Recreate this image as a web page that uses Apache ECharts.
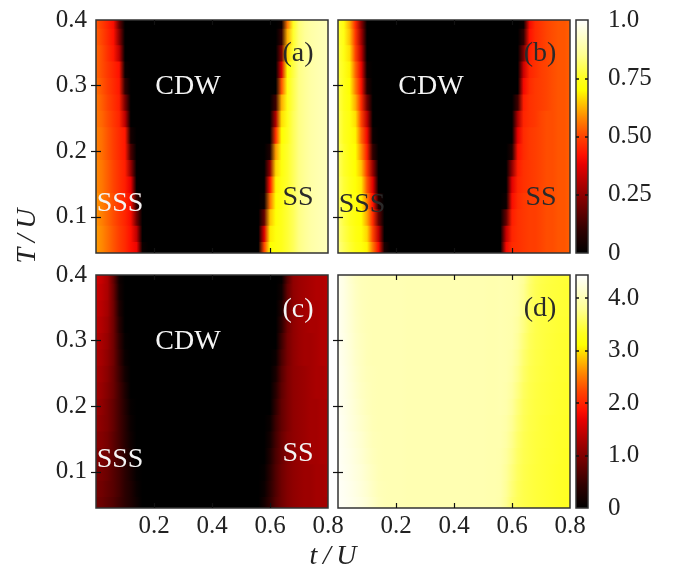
<!DOCTYPE html>
<html><head><meta charset="utf-8">
<script src="https://cdn.jsdelivr.net/npm/echarts@6/dist/echarts.min.js"></script>
<style>html,body{margin:0;padding:0;background:#fff}#c{width:673px;height:572px}</style>
</head><body><div id="c"></div>
<script>
// ---- data ----
const tCols = [0,0.02,0.04,0.06,0.08,0.10,0.12,0.14,0.16,0.18,0.20,0.22,0.24,0.26,0.28,0.30,0.32,0.34,0.36,0.38,0.40,0.42,0.44,0.46,0.48,0.50,0.52,0.54,0.56,0.58,0.60,0.62,0.64,0.66,0.68,0.70,0.72,0.74,0.76,0.78,0.80];
const tRows = [0.050,0.075,0.100,0.125,0.150,0.175,0.200,0.225,0.250,0.275,0.300,0.325,0.350,0.375,0.400];
const xTicks = [0.2,0.4,0.6,0.8];
const yTicks = [0.1,0.2,0.3,0.4];
const cb1Ticks = [0,0.25,0.5,0.75,1.0];
const cb2Ticks = [0,1,2,3,4];
const cb1Max = 1.0;
const cb2Max = 4.44;
const yMin = 0.045, yMax = 0.4;

// one row per tRows entry, one value per tCols entry
const panelA = [
[0.60,0.58,0.55,0.52,0.49,0.46,0.42,0.39,0.02, 0,0,0,0,0,0,0,0,0,0,0,0,0,0,0,0,0,0,0, 0,0.50,0.70,0.72,0.74,0.77,0.80,0.84,0.86,0.88,0.89,0.90,0.91],
[0.60,0.58,0.55,0.52,0.49,0.46,0.42,0.32,0, 0,0,0,0,0,0,0,0,0,0,0,0,0,0,0,0,0,0,0, 0,0.36,0.68,0.72,0.74,0.77,0.80,0.84,0.86,0.88,0.89,0.90,0.91],
[0.59,0.57,0.54,0.51,0.48,0.45,0.41,0.20,0, 0,0,0,0,0,0,0,0,0,0,0,0,0,0,0,0,0,0,0, 0,0.18,0.64,0.71,0.74,0.77,0.80,0.84,0.86,0.88,0.89,0.90,0.91],
[0.59,0.57,0.54,0.51,0.48,0.45,0.41,0.10,0, 0,0,0,0,0,0,0,0,0,0,0,0,0,0,0,0,0,0,0, 0,0.02,0.55,0.70,0.73,0.77,0.80,0.84,0.86,0.88,0.89,0.90,0.91],
[0.58,0.56,0.53,0.50,0.47,0.44,0.38,0,0, 0,0,0,0,0,0,0,0,0,0,0,0,0,0,0,0,0,0,0, 0,0,0.42,0.69,0.73,0.76,0.80,0.84,0.86,0.88,0.89,0.90,0.91],
[0.58,0.56,0.53,0.50,0.47,0.44,0.26,0,0, 0,0,0,0,0,0,0,0,0,0,0,0,0,0,0,0,0,0,0, 0,0,0.25,0.66,0.72,0.76,0.80,0.84,0.86,0.88,0.89,0.90,0.91],
[0.57,0.55,0.52,0.49,0.46,0.43,0.14,0,0, 0,0,0,0,0,0,0,0,0,0,0,0,0,0,0,0,0,0,0, 0,0,0.06,0.60,0.72,0.76,0.80,0.84,0.86,0.88,0.89,0.90,0.91],
[0.57,0.55,0.52,0.49,0.46,0.43,0.04,0,0, 0,0,0,0,0,0,0,0,0,0,0,0,0,0,0,0,0,0,0, 0,0,0,0.47,0.70,0.75,0.80,0.84,0.86,0.88,0.89,0.90,0.91],
[0.56,0.54,0.51,0.48,0.45,0.32,0,0,0, 0,0,0,0,0,0,0,0,0,0,0,0,0,0,0,0,0,0,0, 0,0,0,0.30,0.67,0.74,0.80,0.84,0.86,0.88,0.89,0.90,0.91],
[0.56,0.53,0.50,0.47,0.44,0.22,0,0,0, 0,0,0,0,0,0,0,0,0,0,0,0,0,0,0,0,0,0,0, 0,0,0,0.12,0.62,0.73,0.79,0.84,0.86,0.88,0.89,0.90,0.91],
[0.55,0.52,0.49,0.46,0.43,0.10,0,0,0, 0,0,0,0,0,0,0,0,0,0,0,0,0,0,0,0,0,0,0, 0,0,0,0,0.52,0.72,0.79,0.84,0.86,0.88,0.89,0.90,0.91],
[0.54,0.51,0.48,0.45,0.42,0.02,0,0,0, 0,0,0,0,0,0,0,0,0,0,0,0,0,0,0,0,0,0,0, 0,0,0,0,0.36,0.70,0.78,0.84,0.86,0.88,0.89,0.90,0.91],
[0.54,0.51,0.47,0.43,0.32,0,0,0,0, 0,0,0,0,0,0,0,0,0,0,0,0,0,0,0,0,0,0,0, 0,0,0,0,0.22,0.66,0.77,0.83,0.86,0.88,0.89,0.90,0.91],
[0.53,0.50,0.46,0.42,0.24,0,0,0,0, 0,0,0,0,0,0,0,0,0,0,0,0,0,0,0,0,0,0,0, 0,0,0,0,0.10,0.62,0.76,0.83,0.86,0.88,0.89,0.90,0.91],
[0.52,0.49,0.45,0.41,0.18,0,0,0,0, 0,0,0,0,0,0,0,0,0,0,0,0,0,0,0,0,0,0,0, 0,0,0,0,0.02,0.56,0.75,0.83,0.86,0.88,0.89,0.90,0.91]
];
const panelB = [
[0.84,0.80,0.77,0.74,0.72,0.69,0.56,0.41,0.05, 0,0,0,0,0,0,0,0,0,0,0,0,0,0,0,0,0,0,0, 0,0.40,0.46,0.47,0.48,0.49,0.49,0.50,0.51,0.51,0.52,0.52,0.53],
[0.83,0.79,0.76,0.73,0.71,0.66,0.50,0.32,0, 0,0,0,0,0,0,0,0,0,0,0,0,0,0,0,0,0,0,0, 0,0.33,0.45,0.47,0.48,0.49,0.49,0.50,0.51,0.51,0.52,0.52,0.53],
[0.83,0.78,0.75,0.72,0.70,0.61,0.46,0.18,0, 0,0,0,0,0,0,0,0,0,0,0,0,0,0,0,0,0,0,0, 0,0.18,0.44,0.47,0.48,0.49,0.49,0.50,0.51,0.51,0.52,0.52,0.53],
[0.82,0.77,0.74,0.72,0.69,0.57,0.42,0.06,0, 0,0,0,0,0,0,0,0,0,0,0,0,0,0,0,0,0,0,0, 0,0.02,0.41,0.46,0.48,0.49,0.49,0.50,0.51,0.51,0.52,0.52,0.53],
[0.82,0.77,0.74,0.71,0.68,0.52,0.37,0,0, 0,0,0,0,0,0,0,0,0,0,0,0,0,0,0,0,0,0,0, 0,0,0.37,0.45,0.47,0.48,0.49,0.50,0.51,0.51,0.52,0.52,0.53],
[0.81,0.76,0.73,0.70,0.64,0.48,0.26,0,0, 0,0,0,0,0,0,0,0,0,0,0,0,0,0,0,0,0,0,0, 0,0,0.25,0.44,0.47,0.48,0.49,0.50,0.51,0.51,0.52,0.52,0.53],
[0.81,0.76,0.72,0.70,0.59,0.44,0.10,0,0, 0,0,0,0,0,0,0,0,0,0,0,0,0,0,0,0,0,0,0, 0,0,0.06,0.42,0.46,0.48,0.49,0.50,0.51,0.51,0.52,0.52,0.53],
[0.80,0.75,0.72,0.69,0.54,0.40,0.02,0,0, 0,0,0,0,0,0,0,0,0,0,0,0,0,0,0,0,0,0,0, 0,0,0,0.38,0.46,0.48,0.49,0.50,0.51,0.51,0.52,0.52,0.53],
[0.80,0.75,0.72,0.67,0.50,0.32,0,0,0, 0,0,0,0,0,0,0,0,0,0,0,0,0,0,0,0,0,0,0, 0,0,0,0.30,0.45,0.47,0.48,0.50,0.51,0.51,0.52,0.52,0.53],
[0.79,0.74,0.71,0.62,0.46,0.20,0,0,0, 0,0,0,0,0,0,0,0,0,0,0,0,0,0,0,0,0,0,0, 0,0,0,0.12,0.44,0.47,0.48,0.49,0.50,0.51,0.52,0.52,0.53],
[0.79,0.74,0.70,0.57,0.42,0.07,0,0,0, 0,0,0,0,0,0,0,0,0,0,0,0,0,0,0,0,0,0,0, 0,0,0,0,0.40,0.46,0.48,0.49,0.50,0.51,0.52,0.52,0.53],
[0.78,0.74,0.69,0.54,0.39,0.02,0,0,0, 0,0,0,0,0,0,0,0,0,0,0,0,0,0,0,0,0,0,0, 0,0,0,0,0.34,0.45,0.47,0.49,0.50,0.51,0.52,0.52,0.53],
[0.78,0.73,0.67,0.50,0.33,0,0,0,0, 0,0,0,0,0,0,0,0,0,0,0,0,0,0,0,0,0,0,0, 0,0,0,0,0.22,0.44,0.47,0.48,0.50,0.51,0.52,0.52,0.53],
[0.77,0.73,0.64,0.48,0.28,0,0,0,0, 0,0,0,0,0,0,0,0,0,0,0,0,0,0,0,0,0,0,0, 0,0,0,0,0.10,0.42,0.46,0.48,0.50,0.51,0.52,0.52,0.53],
[0.77,0.72,0.62,0.46,0.24,0,0,0,0, 0,0,0,0,0,0,0,0,0,0,0,0,0,0,0,0,0,0,0, 0,0,0,0,0.02,0.40,0.46,0.48,0.50,0.51,0.52,0.52,0.53]
];
const panelC = [
[0.20,0.19,0.17,0.15,0.12,0.09,0.06,0.03,0, 0,0,0,0,0,0,0,0,0,0,0,0,0,0,0,0,0,0,0, 0,0.04,0.10,0.16,0.20,0.23,0.25,0.26,0.27,0.27,0.28,0.28,0.28],
[0.21,0.20,0.18,0.16,0.13,0.09,0.06,0.02,0, 0,0,0,0,0,0,0,0,0,0,0,0,0,0,0,0,0,0,0, 0,0.02,0.09,0.15,0.20,0.23,0.25,0.26,0.27,0.27,0.28,0.28,0.29],
[0.22,0.21,0.19,0.16,0.13,0.09,0.05,0.01,0, 0,0,0,0,0,0,0,0,0,0,0,0,0,0,0,0,0,0,0, 0,0.01,0.08,0.15,0.20,0.23,0.25,0.26,0.27,0.27,0.28,0.28,0.29],
[0.23,0.22,0.20,0.17,0.13,0.09,0.04,0,0, 0,0,0,0,0,0,0,0,0,0,0,0,0,0,0,0,0,0,0, 0,0,0.06,0.14,0.19,0.23,0.25,0.26,0.27,0.28,0.28,0.29,0.29],
[0.24,0.23,0.21,0.17,0.13,0.08,0.03,0,0, 0,0,0,0,0,0,0,0,0,0,0,0,0,0,0,0,0,0,0, 0,0,0.04,0.13,0.19,0.23,0.25,0.26,0.27,0.28,0.28,0.29,0.29],
[0.26,0.24,0.22,0.18,0.13,0.08,0.02,0,0, 0,0,0,0,0,0,0,0,0,0,0,0,0,0,0,0,0,0,0, 0,0,0.02,0.12,0.18,0.22,0.25,0.26,0.27,0.28,0.28,0.29,0.29],
[0.27,0.25,0.22,0.18,0.13,0.07,0.01,0,0, 0,0,0,0,0,0,0,0,0,0,0,0,0,0,0,0,0,0,0, 0,0,0,0.10,0.18,0.22,0.25,0.26,0.27,0.28,0.28,0.29,0.29],
[0.28,0.26,0.23,0.19,0.13,0.06,0,0,0, 0,0,0,0,0,0,0,0,0,0,0,0,0,0,0,0,0,0,0, 0,0,0,0.08,0.17,0.22,0.25,0.26,0.27,0.28,0.29,0.29,0.30],
[0.29,0.27,0.24,0.19,0.12,0.04,0,0,0, 0,0,0,0,0,0,0,0,0,0,0,0,0,0,0,0,0,0,0, 0,0,0,0.05,0.16,0.22,0.25,0.26,0.27,0.28,0.29,0.29,0.30],
[0.30,0.28,0.25,0.20,0.11,0.02,0,0,0, 0,0,0,0,0,0,0,0,0,0,0,0,0,0,0,0,0,0,0, 0,0,0,0.02,0.14,0.21,0.25,0.27,0.28,0.28,0.29,0.30,0.30],
[0.31,0.29,0.26,0.20,0.10,0.01,0,0,0, 0,0,0,0,0,0,0,0,0,0,0,0,0,0,0,0,0,0,0, 0,0,0,0,0.12,0.21,0.25,0.27,0.28,0.28,0.29,0.30,0.30],
[0.32,0.30,0.27,0.20,0.08,0,0,0,0, 0,0,0,0,0,0,0,0,0,0,0,0,0,0,0,0,0,0,0, 0,0,0,0,0.09,0.20,0.25,0.27,0.28,0.29,0.29,0.30,0.30],
[0.33,0.31,0.28,0.20,0.06,0,0,0,0, 0,0,0,0,0,0,0,0,0,0,0,0,0,0,0,0,0,0,0, 0,0,0,0,0.06,0.19,0.25,0.27,0.28,0.29,0.29,0.30,0.30],
[0.34,0.32,0.29,0.19,0.04,0,0,0,0, 0,0,0,0,0,0,0,0,0,0,0,0,0,0,0,0,0,0,0, 0,0,0,0,0.03,0.18,0.25,0.27,0.28,0.29,0.30,0.30,0.31],
[0.35,0.33,0.29,0.18,0.03,0,0,0,0, 0,0,0,0,0,0,0,0,0,0,0,0,0,0,0,0,0,0,0, 0,0,0,0,0.01,0.16,0.25,0.27,0.28,0.29,0.30,0.30,0.31]
];
const panelD = [
[4.40,4.37,4.33,4.29,4.25,4.19,4.11,4.04,4.00, 3.99,3.99,3.99,3.98,3.98,3.98,3.98,3.98,3.98,3.98,3.98,3.98,3.98,3.98,3.97,3.97,3.97,3.96,3.96, 3.93,3.80,3.64,3.55,3.50,3.47,3.44,3.42,3.40,3.38,3.36,3.34,3.33],
[4.40,4.36,4.32,4.27,4.22,4.16,4.08,4.02,4.00, 3.99,3.99,3.99,3.98,3.98,3.98,3.98,3.98,3.98,3.98,3.98,3.98,3.98,3.98,3.97,3.97,3.97,3.96,3.96, 3.94,3.82,3.67,3.56,3.50,3.47,3.44,3.42,3.40,3.38,3.36,3.35,3.33],
[4.39,4.35,4.30,4.25,4.20,4.13,4.06,4.01,3.99, 3.99,3.99,3.99,3.98,3.98,3.98,3.98,3.98,3.98,3.98,3.98,3.98,3.98,3.98,3.97,3.97,3.97,3.96,3.96, 3.94,3.84,3.70,3.58,3.51,3.47,3.44,3.42,3.40,3.38,3.36,3.35,3.34],
[4.39,4.34,4.29,4.23,4.17,4.10,4.04,4.00,3.99, 3.99,3.99,3.99,3.98,3.98,3.98,3.98,3.98,3.98,3.98,3.98,3.98,3.98,3.98,3.97,3.97,3.97,3.96,3.96, 3.95,3.87,3.73,3.60,3.52,3.48,3.45,3.42,3.40,3.39,3.37,3.35,3.34],
[4.38,4.33,4.27,4.21,4.15,4.08,4.02,4.00,3.99, 3.99,3.99,3.99,3.98,3.98,3.98,3.98,3.98,3.98,3.98,3.98,3.98,3.98,3.98,3.97,3.97,3.97,3.96,3.96, 3.96,3.90,3.76,3.62,3.53,3.48,3.45,3.43,3.41,3.39,3.37,3.36,3.35],
[4.38,4.32,4.25,4.19,4.12,4.06,4.01,3.99,3.99, 3.99,3.99,3.99,3.98,3.98,3.98,3.98,3.98,3.98,3.98,3.98,3.98,3.98,3.98,3.97,3.97,3.97,3.96,3.96, 3.96,3.92,3.80,3.65,3.55,3.49,3.46,3.43,3.41,3.39,3.38,3.36,3.35],
[4.37,4.31,4.24,4.17,4.10,4.04,4.00,3.99,3.99, 3.99,3.99,3.99,3.98,3.98,3.98,3.98,3.98,3.98,3.98,3.98,3.98,3.98,3.98,3.97,3.97,3.97,3.96,3.96, 3.97,3.94,3.84,3.68,3.56,3.50,3.46,3.44,3.42,3.40,3.38,3.37,3.36],
[4.37,4.30,4.23,4.15,4.08,4.03,4.00,3.99,3.99, 3.99,3.99,3.99,3.98,3.98,3.98,3.98,3.98,3.98,3.98,3.98,3.98,3.98,3.98,3.97,3.97,3.97,3.96,3.96, 3.97,3.95,3.87,3.72,3.58,3.51,3.47,3.44,3.42,3.40,3.39,3.37,3.36],
[4.37,4.30,4.22,4.14,4.07,4.02,4.00,3.99,3.99, 3.99,3.99,3.99,3.98,3.98,3.98,3.98,3.98,3.98,3.98,3.98,3.98,3.98,3.98,3.97,3.97,3.97,3.96,3.96, 3.97,3.96,3.90,3.76,3.61,3.52,3.48,3.45,3.43,3.41,3.39,3.38,3.37],
[4.36,4.29,4.21,4.12,4.06,4.01,3.99,3.99,3.99, 3.99,3.99,3.99,3.98,3.98,3.98,3.98,3.98,3.98,3.98,3.98,3.98,3.98,3.98,3.97,3.97,3.97,3.96,3.96, 3.97,3.96,3.92,3.80,3.64,3.54,3.49,3.46,3.43,3.41,3.40,3.38,3.37],
[4.36,4.29,4.20,4.11,4.05,4.01,3.99,3.99,3.99, 3.99,3.99,3.99,3.98,3.98,3.98,3.98,3.98,3.98,3.98,3.98,3.98,3.98,3.98,3.97,3.97,3.97,3.96,3.96, 3.97,3.96,3.94,3.84,3.68,3.56,3.50,3.47,3.44,3.42,3.40,3.39,3.38],
[4.36,4.28,4.19,4.10,4.04,4.00,3.99,3.99,3.99, 3.99,3.99,3.99,3.98,3.98,3.98,3.98,3.98,3.98,3.98,3.98,3.98,3.98,3.98,3.97,3.97,3.97,3.96,3.96, 3.97,3.96,3.94,3.87,3.72,3.58,3.51,3.47,3.45,3.43,3.41,3.40,3.39],
[4.36,4.28,4.18,4.09,4.03,4.00,3.99,3.99,3.99, 3.99,3.99,3.99,3.98,3.98,3.98,3.98,3.98,3.98,3.98,3.98,3.98,3.98,3.98,3.97,3.97,3.97,3.96,3.96, 3.97,3.96,3.95,3.90,3.76,3.60,3.52,3.48,3.46,3.44,3.42,3.41,3.40],
[4.35,4.27,4.17,4.08,4.02,4.00,3.99,3.99,3.99, 3.99,3.99,3.99,3.98,3.98,3.98,3.98,3.98,3.98,3.98,3.98,3.98,3.98,3.98,3.97,3.97,3.97,3.96,3.96, 3.97,3.96,3.95,3.91,3.79,3.63,3.54,3.49,3.46,3.44,3.43,3.41,3.40],
[4.35,4.27,4.16,4.07,4.02,4.00,3.99,3.99,3.99, 3.99,3.99,3.99,3.98,3.98,3.98,3.98,3.98,3.98,3.98,3.98,3.98,3.98,3.98,3.97,3.97,3.97,3.96,3.96, 3.97,3.96,3.95,3.92,3.82,3.65,3.55,3.50,3.47,3.45,3.43,3.42,3.41]
];
const panelTags = ['(a)','(b)','(c)','(d)'];

// ---- styling ----
const FONT = '"Liberation Serif", "Times New Roman", serif';
const paletteStops = [[0,'#000000'],[0.1,'#300000'],[0.2,'#700000'],[0.25,'#8f0000'],[0.3,'#b00000'],[0.38,'#e80000'],[0.42,'#ff1000'],[0.5,'#ff4400'],[0.58,'#ff8800'],[0.65,'#ffcc00'],[0.7,'#ffff00'],[0.75,'#ffff20'],[0.85,'#ffff90'],[1,'#ffffff']];
function h2r(c){return [parseInt(c.slice(1,3),16),parseInt(c.slice(3,5),16),parseInt(c.slice(5,7),16)];}
function palette(f){
  f = Math.max(0, Math.min(1, f));
  for (let k = 1; k < paletteStops.length; k++) {
    const [f1,c1] = paletteStops[k];
    if (f <= f1) {
      const [f0,c0] = paletteStops[k-1];
      const a = (f - f0) / (f1 - f0);
      const r0 = h2r(c0), r1 = h2r(c1);
      return 'rgb(' + r0.map((v,i)=>Math.round(v + (r1[i]-v)*a)).join(',') + ')';
    }
  }
  return '#ffffff';
}

const panelGrids = [
  {left:96, top:20, width:232, height:233},
  {left:338, top:20, width:232, height:233},
  {left:96, top:275, width:232, height:233},
  {left:338, top:275, width:232, height:233}
];
const cbGrids = [
  {left:576, top:20, width:12, height:233},
  {left:576, top:275, width:12, height:233}
];
const grid = panelGrids.concat(cbGrids).map(g => Object.assign({show:true, z:10, borderColor:'#333', borderWidth:1.5, backgroundColor:'transparent'}, g));

const labelStyle = {color:'#222', fontFamily:FONT, fontSize:25};
const tickStyle = {color:'#111', width:1.2};
const xAxis = [], yAxis = [];
for (let g = 0; g < 4; g++) {
  const showX = g >= 2, showY = (g % 2 === 0);
  xAxis.push({type:'value', gridIndex:g, position:'bottom', min:0, max:0.8, z:11,
    axisLine:{show:false}, splitLine:{show:false},
    axisTick:{show:true, inside:true, length:5, customValues:[0.2,0.4,0.6], lineStyle:tickStyle},
    axisLabel:Object.assign({show:showX, customValues:xTicks, margin:6, formatter:v=>v.toFixed(1)}, labelStyle)});
  xAxis.push({type:'value', gridIndex:g, position:'top', min:0, max:0.8, z:11,
    axisLine:{show:false}, splitLine:{show:false},
    axisTick:{show:true, inside:true, length:5, customValues:[0.2,0.4,0.6], lineStyle:tickStyle},
    axisLabel:{show:false}});
  yAxis.push({type:'value', gridIndex:g, position:'left', min:yMin, max:yMax, z:11,
    axisLine:{show:false}, splitLine:{show:false},
    axisTick:{show:true, inside:true, length:5, customValues:[0.1,0.2,0.3], lineStyle:tickStyle},
    axisLabel:Object.assign({show:showY, customValues:yTicks, margin:9, formatter:v=>v.toFixed(1)}, labelStyle)});
  yAxis.push({type:'value', gridIndex:g, position:'right', min:yMin, max:yMax, z:11,
    axisLine:{show:false}, splitLine:{show:false},
    axisTick:{show:true, inside:true, length:5, customValues:[0.1,0.2,0.3], lineStyle:tickStyle},
    axisLabel:{show:false}});
}
const cbDefs = [
  {max:cb1Max, ticks:cb1Ticks, fmt:v=> v===0 ? '0' : (v===1 ? '1.0' : v.toFixed(2))},
  {max:cb2Max, ticks:cb2Ticks, fmt:v=> v===0 ? '0' : v.toFixed(1)}
];
cbDefs.forEach((d, k) => {
  const g = 4 + k;
  const inner = d.ticks.filter(v => v > 0 && v < d.max);
  xAxis.push({type:'value', gridIndex:g, min:0, max:1, show:false});
  yAxis.push({type:'value', gridIndex:g, position:'left', min:0, max:d.max, z:11,
    axisLine:{show:false}, splitLine:{show:false},
    axisTick:{show:true, inside:true, length:3, customValues:inner, lineStyle:{color:'#111', width:1.5}},
    axisLabel:{show:false}});
  yAxis.push({type:'value', gridIndex:g, position:'right', min:0, max:d.max, z:11,
    axisLine:{show:false}, splitLine:{show:false},
    axisTick:{show:true, inside:true, length:3, customValues:inner, lineStyle:{color:'#111', width:1.5}},
    axisLabel:Object.assign({show:true, customValues:d.ticks, margin:20, formatter:d.fmt}, labelStyle)});
});

function stripSeries(g, values, vmax) {
  const span = tCols[tCols.length-1] - tCols[0];
  return {
    type:'custom', xAxisIndex:2*g, yAxisIndex:2*g, clip:true, silent:true, z:2,
    data: tRows.map((T, j) => [tCols[0], T, j]),
    renderItem: (params, api) => {
      const j = api.value(2);
      const lo = j === 0 ? yMin : (tRows[j-1] + tRows[j]) / 2;
      const hi = j === tRows.length-1 ? yMax : (tRows[j] + tRows[j+1]) / 2;
      const p0 = api.coord([tCols[0], hi]);
      const p1 = api.coord([tCols[tCols.length-1], lo]);
      const stops = values[j].map((v, i) => ({offset:(tCols[i]-tCols[0])/span, color:palette(v / vmax)}));
      return {type:'rect', shape:{x:p0[0], y:p0[1]-0.6, width:p1[0]-p0[0], height:p1[1]-p0[1]+1.2},
        style:{fill:new echarts.graphic.LinearGradient(0,0,1,0,stops)}};
    }
  };
}
function colorbarSeries(k, vmax) {
  return {
    type:'custom', xAxisIndex:8+k, yAxisIndex:8+2*k, clip:true, silent:true, z:2,
    data:[[0, 0]],
    renderItem: (params, api) => {
      const p0 = api.coord([0, vmax]);
      const p1 = api.coord([1, 0]);
      const stops = paletteStops.map(s => ({offset:1 - s[0], color:s[1]})).reverse();
      return {type:'rect', shape:{x:p0[0], y:p0[1], width:p1[0]-p0[0], height:p1[1]-p0[1]},
        style:{fill:new echarts.graphic.LinearGradient(0,0,0,1,stops)}};
    }
  };
}

const series = [
  stripSeries(0, panelA, cb1Max),
  stripSeries(1, panelB, cb1Max),
  stripSeries(2, panelC, cb1Max),
  stripSeries(3, panelD, cb2Max),
  colorbarSeries(0, cb1Max),
  colorbarSeries(1, cb2Max)
];

function txt(s, x, y, color, extra) {
  return {type:'text', x:x, y:y, z:100, silent:true,
    style:Object.assign({text:s, fill:color, font:'28px ' + FONT, textAlign:'center', textVerticalAlign:'middle'}, extra||{})};
}
const W = '#f4f4f4', D = '#2a2a2a';
const graphic = [
  txt('CDW', 188, 87, W), txt('CDW', 431, 87, W), txt('CDW', 188, 342, W),
  txt('SSS', 120, 204, W), txt('SS', 298, 198, D),
  txt('SSS', 362, 205, D), txt('SS', 541, 198, D),
  txt('SSS', 120, 460, W), txt('SS', 298, 454, W),
  txt(panelTags[0], 298, 54, D), txt(panelTags[1], 540, 54, D),
  txt(panelTags[2], 298, 310, W), txt(panelTags[3], 540, 309, D),
  {type:'text', x:28, y:236, rotation:Math.PI/2, z:100, silent:true,
    style:{text:'T\u2009/\u2009U', fill:'#222', font:'italic 28px ' + FONT, textAlign:'center', textVerticalAlign:'middle'}},
  txt('t\u2009/\u2009U', 333, 557, '#222', {font:'italic 28px ' + FONT})
];

const chart = echarts.init(document.getElementById('c'), null, {renderer:'canvas'});
chart.setOption({backgroundColor:'#fff', animation:false, grid, xAxis, yAxis, series, graphic});
</script></body></html>
